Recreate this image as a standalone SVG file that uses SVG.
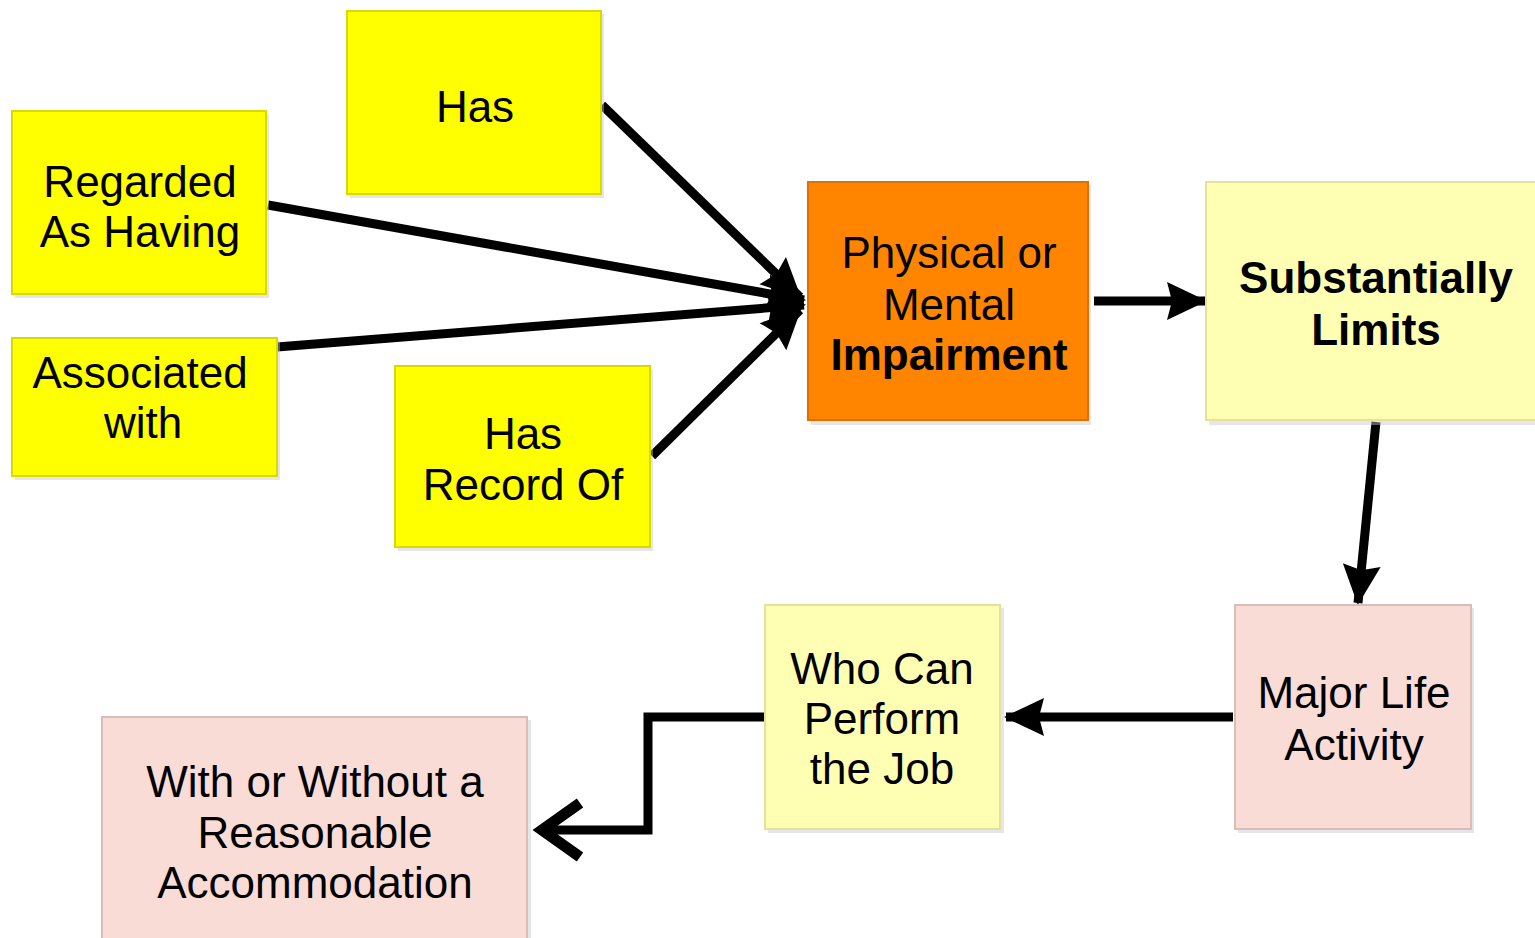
<svg xmlns="http://www.w3.org/2000/svg" width="1535" height="938" viewBox="0 0 1535 938">
<defs>
<style>
.box{stroke-width:2}
.y{fill:#FFFF00;stroke:#D9D900}
.o{fill:#FF8500;stroke:#E06E00}
.ly{fill:#FFFFB4;stroke:#E2E29A}
.pk{fill:#FADCD6;stroke:#D9BDB8}
.sh{fill:#C8C8D0;opacity:0.45}
.t{font-family:"Liberation Sans",Arial,sans-serif;font-size:44px;fill:#000;text-anchor:middle}
.b{font-weight:bold}
.c{fill:none;stroke:#000;stroke-width:9}
</style>
<marker id="ah" markerUnits="userSpaceOnUse" markerWidth="42" markerHeight="40" refX="38" refY="19" orient="auto" overflow="visible">
<path d="M0,0 L40,19 L0,38 L5,19 z" fill="#000"/>
</marker>
<marker id="av" markerUnits="userSpaceOnUse" markerWidth="54" markerHeight="66" refX="46" refY="33" orient="auto" overflow="visible">
<path d="M6,6 L44,33 L6,60" fill="none" stroke="#000" stroke-width="11" stroke-linejoin="miter"/>
</marker>
</defs>
<rect width="1535" height="938" fill="#FFFFFF"/>

<g id="connectors">
<line class="c" x1="602" y1="105" x2="800" y2="297" marker-end="url(#ah)"/>
<line class="c" x1="268" y1="205" x2="804" y2="300" marker-end="url(#ah)"/>
<line class="c" x1="277" y1="347" x2="804" y2="305" marker-end="url(#ah)"/>
<line class="c" x1="652" y1="456" x2="800" y2="310" marker-end="url(#ah)"/>
<line class="c" x1="1094" y1="301" x2="1205" y2="301" marker-end="url(#ah)"/>
<line class="c" x1="1376" y1="422" x2="1358" y2="603" marker-end="url(#ah)"/>
<line class="c" x1="1233" y1="717" x2="1006" y2="717" marker-end="url(#ah)"/>
<polyline class="c" points="765,717 648,717 648,830 540,830" marker-end="url(#av)"/>
</g>

<g id="node-has">
<rect class="sh" x="350" y="14" width="254" height="184"/>
<rect class="box y" x="347" y="11" width="254" height="183"/>
<text class="t" x="475" y="122">Has</text>
</g>

<g id="node-regarded">
<rect class="sh" x="15" y="114" width="254" height="184"/>
<rect class="box y" x="12" y="111" width="254" height="183"/>
<text class="t" x="140" y="197">Regarded</text>
<text class="t" x="140" y="247">As Having</text>
</g>

<g id="node-associated">
<rect class="sh" x="15" y="341" width="265" height="139"/>
<rect class="box y" x="12" y="338" width="265" height="138"/>
<text class="t" x="140" y="388">Associated</text>
<text class="t" x="143" y="438">with</text>
</g>

<g id="node-record">
<rect class="sh" x="398" y="369" width="255" height="182"/>
<rect class="box y" x="395" y="366" width="255" height="181"/>
<text class="t" x="523" y="449">Has</text>
<text class="t" x="523" y="500">Record Of</text>
</g>

<g id="node-impairment">
<rect class="sh" x="811" y="185" width="280" height="240"/>
<rect class="box o" x="808" y="182" width="280" height="238"/>
<text class="t" x="949" y="268">Physical or</text>
<text class="t" x="949" y="320">Mental</text>
<text class="t b" x="949" y="370">Impairment</text>
</g>

<g id="node-limits">
<rect class="sh" x="1209" y="185" width="330" height="240"/>
<rect class="box ly" x="1206" y="182" width="332" height="238"/>
<text class="t b" x="1376" y="293">Substantially</text>
<text class="t b" x="1376" y="345">Limits</text>
</g>

<g id="node-major">
<rect class="sh" x="1238" y="608" width="236" height="225"/>
<rect class="box pk" x="1235" y="605" width="236" height="224"/>
<text class="t" x="1354" y="708">Major Life</text>
<text class="t" x="1354" y="760">Activity</text>
</g>

<g id="node-who">
<rect class="sh" x="768" y="608" width="236" height="225"/>
<rect class="box ly" x="765" y="605" width="235" height="224"/>
<text class="t" x="882" y="684">Who Can</text>
<text class="t" x="882" y="734">Perform</text>
<text class="t" x="882" y="784">the Job</text>
</g>

<g id="node-accommodation">
<rect class="sh" x="105" y="720" width="426" height="222"/>
<rect class="box pk" x="102" y="717" width="425" height="225"/>
<text class="t" x="315" y="797">With or Without a</text>
<text class="t" x="315" y="848">Reasonable</text>
<text class="t" x="315" y="898">Accommodation</text>
</g>
</svg>
